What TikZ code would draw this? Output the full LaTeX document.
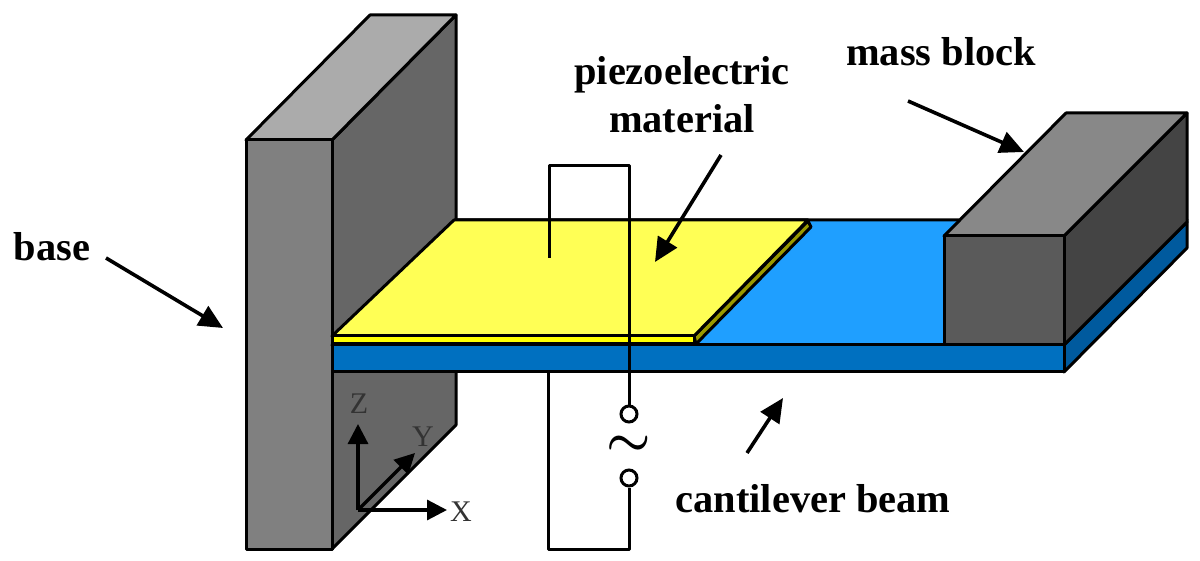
\documentclass[tikz,border=0pt]{standalone}
\usepackage{fontspec}
\setmainfont{Liberation Serif}
\usetikzlibrary{arrows.meta}
\definecolor{baseFront}{HTML}{808080}
\definecolor{baseTop}{HTML}{ABABAB}
\definecolor{baseSide}{HTML}{666666}
\definecolor{massFront}{HTML}{5A5A5A}
\definecolor{massTop}{HTML}{888888}
\definecolor{massSide}{HTML}{444444}
\definecolor{beamFront}{HTML}{0070C0}
\definecolor{beamTop}{HTML}{1F9FFF}
\definecolor{beamSide}{HTML}{005A9E}
\definecolor{piezoTop}{HTML}{FFFF55}
\definecolor{piezoFront}{HTML}{FFFF00}
\definecolor{piezoSide}{HTML}{999900}
\definecolor{axisGrey}{HTML}{333333}
\tikzstyle{face} = [draw=black, line width=1.5pt, line join=round]
\tikzstyle{wire} = [draw=black, line width=1.5pt, line join=round]
\tikzstyle{arrow} = [line width=1.8pt, -{Triangle[length=12pt,width=11pt]}]
\tikzstyle{axis} = [line width=1.6pt, black, -{Triangle[length=10pt,width=10pt]}]
\tikzstyle{label} = [font=\fontsize{20.2}{24}\selectfont\bfseries, inner sep=0pt, align=center]
\tikzstyle{axislabel} = [font=\fontsize{15}{17}\selectfont, text=axisGrey, inner sep=0pt]
\tikzstyle{terminal} = [circle, draw=black, fill=white, line width=1.5pt, minimum size=8pt, inner sep=0pt]
\begin{document}
\begin{tikzpicture}[x=0.5pt,y=-0.5pt]
\useasboundingbox (0,0) rectangle (1200,561);
%----------------------------------------------------------------------------
% Base
\draw [face, fill=baseSide] (332,140) -- (456,15) -- (456,425) -- (332,549) -- cycle;
\draw [face, fill=baseTop] (246,140) -- (370,15) -- (456,15) -- (332,140) -- cycle;
\draw [face, fill=baseFront] (246,140) rectangle (332,549);

%----------------------------------------------------------------------------
% Wire behind the beam
\coordinate (wireBeam) at (548,371);
\coordinate (wireCorner) at (548,549);
\coordinate (wireLow) at (629,549);
\node (termLow) [terminal] at (629,478) {};
\draw [wire] (wireBeam) -- (wireCorner) -- (wireLow) -- (termLow);

%----------------------------------------------------------------------------
% Cantilever beam
\draw [face, fill=beamTop] (332,345) -- (456,220) -- (1187,220) -- (1064,345) -- cycle;
\draw [face, fill=beamSide] (1064,345) -- (1187,222) -- (1187,248) -- (1064,372) -- cycle;
\draw [face, fill=beamFront] (332,345) rectangle (1064,372);

%----------------------------------------------------------------------------
% Piezoelectric material
\draw [face, fill=piezoSide] (694,336) -- (808,221) -- (811,227) -- (696,344) -- cycle;
\draw [face, fill=piezoTop] (332,336) -- (454,220) -- (808,220) -- (694,336) -- cycle;
\draw [face, fill=piezoFront] (332,336) rectangle (694,344);

%----------------------------------------------------------------------------
% Mass block
\draw [face, fill=massSide] (1064,236) -- (1187,113) -- (1187,222) -- (1064,345) -- cycle;
\draw [face, fill=massTop] (944,236) -- (1066,113) -- (1187,113) -- (1064,236) -- cycle;
\draw [face, fill=massFront] (944,236) rectangle (1064,345);

%----------------------------------------------------------------------------
% Wire in front of the beam
\coordinate (wireStart) at (549,258);
\coordinate (wireTopL) at (549,166);
\coordinate (wireTopR) at (629,166);
\node (termUp) [terminal] at (629,414) {};
\node (source) [inner sep=0pt, font=\fontsize{24.88}{28}\selectfont\boldmath] at (629,446) {$\sim$};
\draw [wire] (wireStart) -- (wireTopL) -- (wireTopR) -- (termUp);

%----------------------------------------------------------------------------
% Axes
\coordinate (origin) at (358,510);
\coordinate (axisZ) at (358,424);
\coordinate (axisX) at (447,510);
\coordinate (axisY) at (415,453);
\draw [axis] (origin) -- (axisZ);
\draw [axis] (origin) -- (axisX);
\draw [axis] (origin) -- (axisY);
\node (labelZ) [axislabel] at (359,404) {Z};
\node (labelY) [axislabel] at (423,437) {Y};
\node (labelX) [axislabel] at (461,512) {X};

%----------------------------------------------------------------------------
% Labels
\node (baseText) [label] at (52,247) {base};
\node (piezoText) [label] at (682,95) {piezoelectric\\material};
\node (massText) [label] at (941,52) {mass block};
\node (beamText) [label] at (813,499) {cantilever beam};

%----------------------------------------------------------------------------
% Arrows
\coordinate (baseFrom) at (106,258);
\coordinate (baseTo) at (223,328);
\coordinate (piezoFrom) at (721,155);
\coordinate (piezoTo) at (655,262);
\coordinate (massFrom) at (908,101);
\coordinate (massTo) at (1024,152);
\coordinate (beamFrom) at (747,453);
\coordinate (beamTo) at (783,398);
\draw [arrow] (baseFrom) -- (baseTo);
\draw [arrow] (piezoFrom) -- (piezoTo);
\draw [arrow] (massFrom) -- (massTo);
\draw [arrow] (beamFrom) -- (beamTo);
\end{tikzpicture}
\end{document}
